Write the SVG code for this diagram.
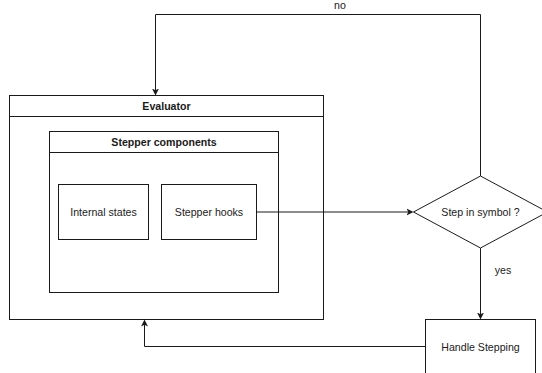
<svg xmlns="http://www.w3.org/2000/svg" width="542" height="373" viewBox="0 0 542 373">
  <style>
    .box { fill: #ffffff; stroke: #1a1a1a; stroke-width: 1; }
    .sep { stroke: #1a1a1a; stroke-width: 1; fill: none; }
    .edge { fill: none; stroke: #1a1a1a; stroke-width: 1; }
    .t { font-family: "Liberation Sans", Arial, sans-serif; font-size: 10.6px; fill: #1a1a1a; text-anchor: middle; dominant-baseline: central; }
    .b { font-weight: bold; }
  </style>
  <defs>
    <marker id="arr" markerUnits="userSpaceOnUse" markerWidth="10" markerHeight="10" viewBox="0 0 10 10" refX="4" refY="5" orient="auto">
      <path d="M0,1.5 L7,5 L0,8.5 L1.8,5 Z" fill="#1a1a1a"/>
    </marker>
  </defs>
  <rect width="542" height="373" fill="#ffffff"/>

  <g id="evaluator">
    <rect class="box" x="9.5" y="95.5" width="314" height="224"/>
    <line class="sep" x1="9.5" y1="116.5" x2="323.5" y2="116.5"/>
    <text class="t b" x="166.5" y="106">Evaluator</text>
  </g>

  <g id="stepper-components">
    <rect class="box" x="49.5" y="131.5" width="229" height="161"/>
    <line class="sep" x1="49.5" y1="152.5" x2="278.5" y2="152.5"/>
    <text class="t b" x="164" y="142">Stepper components</text>
  </g>

  <g id="internal-states">
    <rect class="box" x="58.5" y="184.5" width="90" height="55"/>
    <text class="t" x="103.5" y="212">Internal states</text>
  </g>

  <g id="stepper-hooks">
    <rect class="box" x="161.5" y="184.5" width="95" height="55"/>
    <text class="t" x="209" y="212">Stepper hooks</text>
  </g>

  <g id="step-in-symbol">
    <polygon class="box" points="480.5,176 547.5,212 480.5,248 413.5,212"/>
    <text class="t" x="480.5" y="212">Step in symbol ?</text>
  </g>

  <g id="handle-stepping">
    <rect class="box" x="425.5" y="319.5" width="110" height="60"/>
    <text class="t" x="480.5" y="347">Handle Stepping</text>
  </g>

  <g id="connectors">
    <path class="edge" d="M480.5,176 V14.5 H155.5 V92.5" marker-end="url(#arr)"/>
    <text class="t" x="340" y="5">no</text>
    <path class="edge" d="M256.5,212 H410.5" marker-end="url(#arr)"/>
    <path class="edge" d="M480.5,248 V316.5" marker-end="url(#arr)"/>
    <text class="t" x="503" y="270">yes</text>
    <path class="edge" d="M425.5,346.5 H144.5 V322.5" marker-end="url(#arr)"/>
  </g>
</svg>
